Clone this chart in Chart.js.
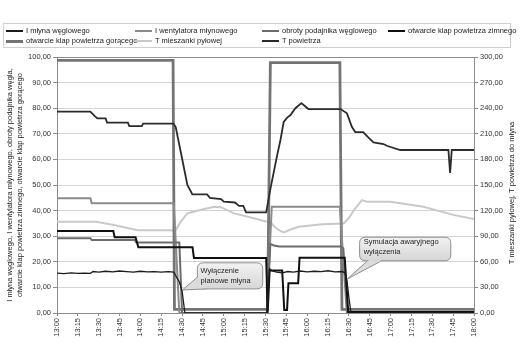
<!DOCTYPE html>
<html>
<head>
<meta charset="utf-8">
<script src="https://cdn.jsdelivr.net/npm/chart.js@4.4.1/dist/chart.umd.min.js"></script>
<style>
  html, body { margin: 0; padding: 0; background: #fff; }
  #wrap { position: relative; width: 526px; height: 355px; overflow: hidden; }
  #c { position: absolute; left: 0; top: 0; }
  #legend { position: absolute; left: 3px; top: 23px; width: 506px; height: 23px; border: 1px solid #cfcfcf; background: #fff;
            font-family: "Liberation Sans", Arial, sans-serif; font-size: 7.5px; color: #222; }
  .li { position: absolute; white-space: nowrap; line-height: 9px; }
  .sw { position: absolute; left: 0; width: 17px; }
  .lt { position: absolute; left: 20px; top: 0; }
</style>
</head>
<body>
<div id="wrap">
  <canvas id="c" width="526" height="355"></canvas>
  <div id="legend"></div>
</div>
<script>
// ---- tick labels (x axis, every 15 minutes from 13:00) ----
const timeLabels = ['13:00','13:15','13:30','13:45','14:00','14:15','14:30','14:45','15:00','15:15','15:30',
                    '15:45','16:00','16:15','16:30','16:45','17:00','17:15','17:30','17:45','18:00'];

// ---- series names ----
const seriesNames = ['I młyna węglowego', 'I wentylatora młynowego', 'obroty podajnika węglowego',
  'otwarcie klap powietrza zimnego', 'otwarcie klap powietrza gorącego', 'T mieszanki pyłowej', 'T powietrza'];

// ---- series values (time in minutes after 13:00) ----
// I młyna węglowego (left axis)
const iMlynaT = [0, 5, 10, 15, 20, 24, 26, 30, 35, 40, 45, 50, 55, 60, 65, 70, 75, 80, 84, 86, 88, 90, 92,
                 151, 153, 155, 158, 162, 166, 170, 175, 180, 185, 190, 195, 200, 205, 207, 208.5, 210, 211.5, 300];
const iMlynaV = [15.6, 15.4, 15.7, 15.5, 15.6, 15.5, 16.2, 16.0, 16.3, 16.1, 16.4, 16.2, 16.0, 16.3, 16.1, 16.2, 16.0, 16.2, 16.0, 14.0, 12.2, 8.5, 0,
                 0, 17.3, 16.4, 16.0, 15.7, 16.2, 16.0, 16.4, 16.1, 16.3, 16.2, 16.5, 16.1, 16.2, 15.8, 13.0, 6.0, 0, 0];

// I wentylatora młynowego (left axis)
const iWentT = [0, 24, 25, 84, 88, 151, 154.5, 203.5, 208.5, 300];
const iWentV = [44.8, 44.8, 42.9, 42.9, 0, 0, 41.5, 41.5, 0, 0];

// obroty podajnika węglowego (left axis)
const obrotyT = [0, 24, 25, 56, 57, 88, 90, 151, 153.5, 156, 160, 204, 206, 209, 300];
const obrotyV = [29.2, 29.2, 28.5, 28.5, 27.5, 27.5, 0, 0, 27.0, 26.4, 26.0, 26.0, 25.3, 0, 0];

// otwarcie klap powietrza zimnego (left axis)
const klapZimT = [0, 40.5, 41.5, 56.5, 58.5, 97.5, 98.5, 150.5, 151.5, 153, 162, 163.5, 165.5, 166.5, 173.5, 174.5, 207, 209.5, 300];
const klapZimV = [32, 32, 29.6, 29.6, 25.7, 25.7, 21.5, 21.5, 0, 16.6, 16.6, 1.2, 1.2, 11.6, 11.6, 21.6, 21.6, 0.4, 0.4];

// otwarcie klap powietrza gorącego (left axis)
const klapGorT = [0, 83.5, 84.5, 151.5, 153.5, 203.5, 205, 300];
const klapGorV = [98.7, 98.7, 1.4, 1.4, 97.8, 97.8, 1.4, 1.4];

// T mieszanki pyłowej (right axis, °C)
const tMieszT = [0, 28, 40, 50, 58, 70, 82, 85, 89, 94, 103, 113, 118, 127, 141.6, 151, 152.4, 156, 159.6, 163.1,
                 166.7, 173.9, 190.7, 206.2, 209.8, 214.6, 219.4, 223, 239.7, 263.6, 285, 300];
const tMieszV = [107, 107, 103.5, 100, 97, 97, 97, 96, 107, 117, 120.6, 124.5, 124, 117, 111, 107, 109, 102, 97, 94.5,
                 97, 101, 104, 105, 111, 122.7, 132.3, 130.5, 130.5, 124.5, 115, 110];

// T powietrza (right axis, °C)
const tPowT = [0, 24, 27, 29, 35, 36, 51, 52, 61, 62, 83.8, 85.4, 89, 93.8, 97.4, 108, 110, 118, 120, 128, 131, 134, 136,
               150.5, 153.6, 158.4, 160.8, 163.1, 165.6, 168, 171.5, 175.8, 178.7, 180.9, 204, 208.6, 212.2, 214.6,
               220.3, 224.1, 227.7, 234.9, 237.3, 246.9, 281.6, 282.8, 284, 300];
const tPowV = [236, 236, 231, 228, 228, 223, 223, 219, 219, 222, 222, 218, 189, 150, 139, 139, 135, 133.5, 130.5, 129.5, 125.5, 125.5, 118,
               118, 146, 185, 203, 224, 229, 232, 240, 246, 242, 239, 239, 234, 218, 212,
               212, 205.5, 200, 198, 196, 191, 191, 164, 191, 191];

// ---- y tick values ----
const leftTicks = [0, 10, 20, 30, 40, 50, 60, 70, 80, 90, 100];
const rightTicks = [0, 30, 60, 90, 120, 150, 180, 210, 240, 270, 300];

const pts = (t, v) => t.map((x, i) => ({ x: x, y: v[i] }));
const FONT = '"Liberation Sans", Arial, sans-serif';

const styles = [
  { color: '#1c1c1c', w: 1.3, axis: 'y' },
  { color: '#8a8a8a', w: 2.0, axis: 'y' },
  { color: '#6c6c6c', w: 2.0, axis: 'y' },
  { color: '#101010', w: 2.0, axis: 'y' },
  { color: '#747474', w: 2.8, axis: 'y' },
  { color: '#c9c9c9', w: 2.0, axis: 'y1' },
  { color: '#2b2b2b', w: 1.8, axis: 'y1' }
];
const seriesData = [
  pts(iMlynaT, iMlynaV), pts(iWentT, iWentV), pts(obrotyT, obrotyV), pts(klapZimT, klapZimV),
  pts(klapGorT, klapGorV), pts(tMieszT, tMieszV), pts(tPowT, tPowV)
];
// drawing order: put flap/temperature lines behind currents
const drawOrder = [0, 3, 2, 1, 6, 4, 5];

const datasets = seriesData.map((d, i) => ({
  label: seriesNames[i],
  data: d,
  borderColor: styles[i].color,
  backgroundColor: styles[i].color,
  borderWidth: styles[i].w,
  pointRadius: 0,
  tension: 0,
  yAxisID: styles[i].axis,
  order: drawOrder.indexOf(i)
}));

const fmt = v => v.toFixed(2).replace('.', ',');

// ---- annotation callouts (data coordinates) ----
const callouts = [
  { lines: ['Wyłączenie', 'planowe młyna'], x0: 101, x1: 148, yTop: 19.6, yBot: 9.4, tipX: 90.3, tipY: 9.0, textX: 103.3 },
  { lines: ['Symulacja awaryjnego', 'wyłączenia'], x0: 217.7, x1: 283.3, yTop: 29.6, yBot: 20.4, tipX: 208.6, tipY: 13.2, textX: 220.6 }
];

const framePlugin = {
  id: 'frame',
  beforeDatasetsDraw(chart) {
    const { ctx, chartArea: a } = chart;
    ctx.save();
    ctx.strokeStyle = '#8c8c8c';
    ctx.lineWidth = 1;
    ctx.strokeRect(Math.round(a.left) + 0.5, Math.round(a.top) + 0.5, Math.round(a.right - a.left), Math.round(a.bottom - a.top));
    ctx.restore();
  },
  afterDraw(chart) {
    const { ctx, chartArea: a, scales } = chart;
    const xs = scales.x, ys = scales.y;
    // callouts
    callouts.forEach(c => {
      const L = xs.getPixelForValue(c.x0), R = xs.getPixelForValue(c.x1);
      const T = ys.getPixelForValue(c.yTop), B = ys.getPixelForValue(c.yBot);
      const tx = xs.getPixelForValue(c.tipX), ty = ys.getPixelForValue(c.tipY);
      const r = 6;
      ctx.save();
      const g = ctx.createLinearGradient(0, T, 0, B);
      g.addColorStop(0, '#f2f2f2');
      g.addColorStop(1, '#d6d6d6');
      ctx.beginPath();
      ctx.moveTo(L + r, T);
      ctx.lineTo(R - r, T); ctx.quadraticCurveTo(R, T, R, T + r);
      ctx.lineTo(R, B - r); ctx.quadraticCurveTo(R, B, R - r, B);
      ctx.lineTo(L + r, B); ctx.quadraticCurveTo(L, B, L, B - r);
      ctx.lineTo(L, T + r); ctx.quadraticCurveTo(L, T, L + r, T);
      ctx.closePath();
      ctx.fillStyle = g; ctx.fill();
      ctx.strokeStyle = '#8f8f8f'; ctx.lineWidth = 1; ctx.stroke();
      // pointer
      const h = B - T;
      const isLeft = c.tipX < c.x0 && c.tipY > c.yBot - (c.yTop - c.yBot);
      ctx.beginPath();
      if (c === callouts[0]) {
        ctx.moveTo(L, B - h * 0.45); ctx.lineTo(tx, ty); ctx.lineTo(L + 9, B);
      } else {
        ctx.moveTo(L + 8, B); ctx.lineTo(tx, ty); ctx.lineTo(L + 22, B);
      }
      ctx.fillStyle = '#dcdcdc'; ctx.fill();
      ctx.strokeStyle = '#8f8f8f'; ctx.stroke();
      // cover seam
      ctx.beginPath();
      if (c === callouts[0]) { ctx.moveTo(L, B - h * 0.45 + 1); ctx.lineTo(L, B - 1); }
      else { ctx.moveTo(L + 9, B); ctx.lineTo(L + 21, B); }
      ctx.strokeStyle = '#d8d8d8'; ctx.lineWidth = 1.5; ctx.stroke();
      // text
      ctx.fillStyle = '#222';
      ctx.font = '7.5px ' + FONT;
      ctx.textAlign = 'left'; ctx.textBaseline = 'middle';
      const px = xs.getPixelForValue(c.textX);
      const lh = 9.5;
      const cy = (T + B) / 2 - lh / 2 + (c === callouts[1] ? -2 : 0);
      c.lines.forEach((s, i) => ctx.fillText(s, px, cy + i * lh));
      ctx.restore();
    });
    // axis titles
    ctx.save();
    ctx.fillStyle = '#222';
    ctx.font = '7.5px ' + FONT;
    ctx.textAlign = 'center'; ctx.textBaseline = 'middle';
    const cyL = (a.top + a.bottom) / 2;
    [['I młyna węglowego, I wentylatora młynowego, obroty podajnika węgla,', 10],
     ['otwarcie klap powietrza zimnego, otwarcie klap powietrza gorącego', 20]].forEach(([s, x]) => {
      ctx.save(); ctx.translate(x, cyL); ctx.rotate(-Math.PI / 2); ctx.fillText(s, 0, 0); ctx.restore();
    });
    ctx.save(); ctx.translate(512, cyL + 8); ctx.rotate(-Math.PI / 2);
    ctx.fillText('T mieszanki pyłowej, T powietrza do młyna', 0, 0); ctx.restore();
    ctx.restore();
  }
};

const tickFont = { family: FONT, size: 7.5 };

new Chart(document.getElementById('c'), {
  type: 'line',
  data: { datasets: datasets },
  options: {
    responsive: false,
    animation: false,
    devicePixelRatio: 1,
    layout: { padding: { top: 57, bottom: 0, left: 0, right: 0 } },
    plugins: { legend: { display: false }, tooltip: { enabled: false } },
    scales: {
      x: {
        type: 'linear', min: 0, max: 300,
        afterBuildTicks: s => { s.ticks = timeLabels.map((_, i) => ({ value: i * 15 })); },
        afterFit: s => { s.height = 42; },
        ticks: { autoSkip: false, maxRotation: 90, minRotation: 90, color: '#333', font: tickFont, padding: 2,
                 callback: v => timeLabels[Math.round(v / 15)] },
        grid: { drawOnChartArea: false, tickLength: 3, color: '#8c8c8c' },
        border: { color: '#8c8c8c' }
      },
      y: {
        position: 'left', min: 0, max: 100,
        afterBuildTicks: s => { s.ticks = leftTicks.map(v => ({ value: v })); },
        afterFit: s => { s.width = 57; },
        ticks: { color: '#333', font: tickFont, padding: 2, callback: v => fmt(v) },
        grid: { color: '#d4d4d4', tickLength: 4, tickColor: '#8c8c8c' },
        border: { color: '#8c8c8c' }
      },
      y1: {
        position: 'right', min: 0, max: 300,
        afterBuildTicks: s => { s.ticks = rightTicks.map(v => ({ value: v })); },
        afterFit: s => { s.width = 52; },
        ticks: { color: '#333', font: tickFont, padding: 2, callback: v => fmt(v) },
        grid: { drawOnChartArea: false, tickLength: 4, color: '#8c8c8c' },
        border: { color: '#8c8c8c' }
      }
    }
  },
  plugins: [framePlugin]
});

// ---- HTML legend (4 columns x 2 rows) ----
const legendCols = [2, 131, 258, 384];
const legend = document.getElementById('legend');
seriesNames.forEach((name, i) => {
  const col = i % 4, row = Math.floor(i / 4);
  const item = document.createElement('div');
  item.className = 'li';
  item.style.left = legendCols[col] + 'px';
  item.style.top = (2 + row * 10) + 'px';
  const sw = document.createElement('div');
  sw.className = 'sw';
  const w = Math.max(2, Math.round(styles[i].w));
  sw.style.height = w + 'px';
  sw.style.top = (5 - w / 2) + 'px';
  sw.style.background = styles[i].color;
  const tx = document.createElement('div');
  tx.className = 'lt';
  tx.textContent = name;
  item.appendChild(sw); item.appendChild(tx);
  legend.appendChild(item);
});
</script>
</body>
</html>
